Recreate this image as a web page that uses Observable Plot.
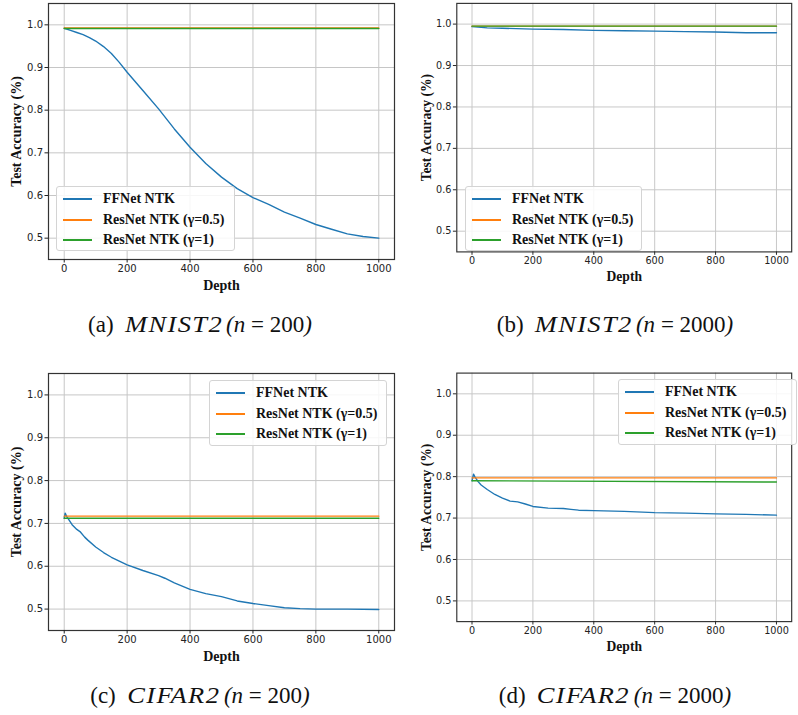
<!DOCTYPE html>
<html>
<head>
<meta charset="utf-8">
<script src="https://cdn.jsdelivr.net/npm/d3@7"></script>
<script src="https://cdn.jsdelivr.net/npm/@observablehq/plot@0.6"></script>
<style>
html, body { margin: 0; padding: 0; background: #fff; }
body { width: 798px; height: 715px; overflow: hidden; position: relative; }
.panel { position: absolute; }
.panel svg { overflow: visible; }
.legend {
  position: absolute; box-sizing: border-box;
  border: 1px solid #d4d4d4; border-radius: 3px; background: rgba(255,255,255,0.85);
  font-family: "Liberation Serif", "Times New Roman", serif; font-weight: bold; font-size: 14px; color: #111;
}
.legend .row { position: absolute; left: 0; height: 20px; white-space: nowrap; }
.legend .swatch { position: absolute; left: 6px; width: 29px; height: 2px; }
.legend .lab { position: absolute; left: 46px; line-height: 20px; top: 0; }
.cap {
  position: absolute; transform: translate(-50%, -50%); white-space: nowrap;
  font-family: "Liberation Serif", "Times New Roman", serif; font-size: 23px; color: #111;
}
.cap .ds { display: inline-block; letter-spacing: 1.2px; transform: scaleX(1.15); transform-origin: left center; margin-right: 10px; }
</style>
</head>
<body>
<script>
// ---------- shared ----------
const xTicks = [0, 200, 400, 600, 800, 1000];
const yTicks = [0.5, 0.6, 0.7, 0.8, 0.9, 1.0];
const seriesNames = ["FFNet NTK", "ResNet NTK (γ=0.5)", "ResNet NTK (γ=1)"];
const seriesColors = ["#1f77b4", "#ff7f0e", "#2ca02c"];
const captions = [
  ["(a)", "MNIST2", "200"],
  ["(b)", "MNIST2", "2000"],
  ["(c)", "CIFAR2", "200"],
  ["(d)", "CIFAR2", "2000"]
];
const resDepth = [0, 1000];

// ---------- (a) MNIST2, n = 200 ----------
const aDepth = [0, 20, 40, 60, 80, 100, 125, 150, 175, 200, 250, 300, 350, 400, 450, 500, 550, 600, 650, 700, 750, 800, 850, 900, 950, 1000];
const aFF    = [0.992, 0.987, 0.982, 0.977, 0.970, 0.962, 0.949, 0.933, 0.912, 0.889, 0.846, 0.803, 0.756, 0.713, 0.675, 0.643, 0.616, 0.595, 0.579, 0.561, 0.547, 0.532, 0.521, 0.510, 0.504, 0.500];
const aRes05 = [0.9925, 0.9925];
const aRes1  = [0.9915, 0.9915];

// ---------- (b) MNIST2, n = 2000 ----------
const bDepth = [0, 50, 100, 200, 300, 400, 500, 600, 700, 800, 900, 1000];
const bFF    = [0.994, 0.991, 0.990, 0.988, 0.987, 0.985, 0.984, 0.983, 0.982, 0.981, 0.979, 0.979];
const bRes05 = [0.995, 0.995];
const bRes1  = [0.995, 0.995];

// ---------- (c) CIFAR2, n = 200 ----------
const cDepth = [0, 3, 8, 15, 25, 40, 50, 65, 75, 100, 125, 150, 175, 200, 250, 300, 320, 350, 400, 450, 500, 550, 600, 650, 700, 750, 800, 900, 1000];
const cFF    = [0.712, 0.724, 0.716, 0.708, 0.697, 0.686, 0.681, 0.668, 0.661, 0.645, 0.632, 0.621, 0.612, 0.603, 0.590, 0.578, 0.572, 0.561, 0.546, 0.536, 0.529, 0.519, 0.513, 0.508, 0.503, 0.501, 0.500, 0.500, 0.499];
const cRes05 = [0.717, 0.717];
const cRes1  = [0.712, 0.712];

// ---------- (d) CIFAR2, n = 2000 ----------
const dDepth = [0, 5, 10, 20, 30, 50, 75, 100, 125, 150, 175, 200, 250, 300, 325, 350, 400, 500, 600, 700, 800, 900, 1000];
const dFF    = [0.790, 0.806, 0.799, 0.788, 0.780, 0.769, 0.757, 0.748, 0.741, 0.739, 0.734, 0.728, 0.724, 0.723, 0.721, 0.719, 0.718, 0.716, 0.713, 0.712, 0.710, 0.709, 0.707];
const dRes05 = [0.797, 0.797];
const dRes1  = [0.790, 0.787];

function toRows(xs, ys) { return xs.map((x, i) => ({depth: x, acc: ys[i]})); }

const labelFont = {fontSize: 14, fontWeight: "bold", fontFamily: '"Liberation Serif", "Times New Roman", serif', fill: "#111"};

function drawPanel(cfg) {
  const series = [
    toRows(cfg.depth, cfg.ff),
    toRows(resDepth, cfg.res05),
    toRows(resDepth, cfg.res1)
  ];
  const chart = Plot.plot({
    width: cfg.width, height: cfg.height,
    marginLeft: cfg.mL, marginRight: cfg.mR, marginTop: cfg.mT, marginBottom: cfg.mB,
    style: {fontFamily: '"DejaVu Sans", sans-serif', fontSize: "10px", color: "#222", background: "transparent"},
    x: {domain: [-50, 1050]},
    y: {domain: [0.45, 1.05]},
    marks: [
      Plot.gridX(xTicks, {stroke: "#c6c6c6", strokeOpacity: 1, strokeWidth: 1}),
      Plot.gridY(yTicks, {stroke: "#c6c6c6", strokeOpacity: 1, strokeWidth: 1}),
      ...series.map((d, i) => Plot.line(d, {x: "depth", y: "acc", stroke: seriesColors[i], strokeWidth: 1.4})),
      Plot.frame({stroke: "#333", strokeWidth: 1.2}),
      Plot.axisX(xTicks, {tickSize: 3.5, tickPadding: 2, tickFormat: (d) => String(d), label: null}),
      Plot.axisY(yTicks, {tickSize: 3.5, tickPadding: 2, tickFormat: ".1f", label: null}),
      Plot.axisX([], {tickSize: 0, label: "Depth", labelAnchor: "center", labelArrow: "none", labelOffset: 30, ...labelFont}),
      Plot.axisY([], {tickSize: 0, label: "Test Accuracy (%)", labelAnchor: "center", labelArrow: "none", labelOffset: 37, ...labelFont})
    ]
  });
  const wrap = document.createElement("div");
  wrap.className = "panel";
  wrap.style.left = cfg.left + "px";
  wrap.style.top = cfg.top + "px";
  wrap.appendChild(chart);
  document.body.appendChild(wrap);

  // legend
  const lg = document.createElement("div");
  lg.className = "legend";
  lg.style.left = cfg.legend[0] + "px";
  lg.style.top = cfg.legend[1] + "px";
  lg.style.width = cfg.legend[2] + "px";
  lg.style.height = cfg.legend[3] + "px";
  seriesNames.forEach((name, i) => {
    const row = document.createElement("div");
    row.className = "row";
    row.style.top = (2 + i * 20.5) + "px";
    const sw = document.createElement("div");
    sw.className = "swatch";
    sw.style.background = seriesColors[i];
    sw.style.top = "9px";
    const lab = document.createElement("div");
    lab.className = "lab";
    lab.textContent = name;
    row.appendChild(sw); row.appendChild(lab);
    lg.appendChild(row);
  });
  document.body.appendChild(lg);

  // caption
  const [tag, ds, n] = cfg.caption;
  const cap = document.createElement("div");
  cap.className = "cap";
  cap.style.left = cfg.capPos[0] + "px";
  cap.style.top = cfg.capPos[1] + "px";
  cap.innerHTML = `${tag}&nbsp; <i class="ds">${ds}</i>&nbsp;<i>(n</i> = ${n}<i>)</i>`;
  document.body.appendChild(cap);
}

drawPanel({left: 0, top: 0, width: 400, height: 300, mL: 48, mR: 6, mT: 3, mB: 41,
  depth: aDepth, ff: aFF, res05: aRes05, res1: aRes1,
  legend: [56, 186, 179, 65], caption: captions[0], capPos: [200, 325]});
drawPanel({left: 400, top: 0, width: 410, height: 300, mL: 58, mR: 7, mT: 3, mB: 41,
  depth: bDepth, ff: bFF, res05: bRes05, res1: bRes1,
  legend: [465, 186, 177, 65], caption: captions[1], capPos: [615, 325]});
drawPanel({left: 0, top: 360, width: 400, height: 310, mL: 48, mR: 6, mT: 13, mB: 40,
  depth: cDepth, ff: cFF, res05: cRes05, res1: cRes1,
  legend: [209, 380, 178, 66], caption: captions[2], capPos: [200, 696]});
drawPanel({left: 400, top: 360, width: 410, height: 310, mL: 58, mR: 7, mT: 13, mB: 41,
  depth: dDepth, ff: dFF, res05: dRes05, res1: dRes1,
  legend: [618, 379, 179, 66], caption: captions[3], capPos: [615, 696]});
</script>
</body>
</html>
